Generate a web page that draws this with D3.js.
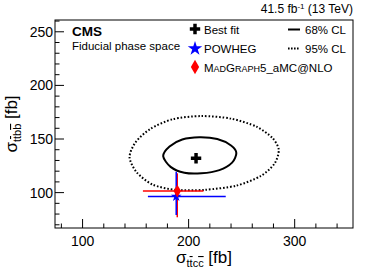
<!DOCTYPE html>
<html>
<head>
<meta charset="utf-8">
<script src="https://cdn.jsdelivr.net/npm/d3@7"></script>
<style>
body{margin:0;background:#fff;}
text{font-family:"Liberation Sans",Arial,sans-serif;fill:#000;}
</style>
</head>
<body>
<div class="chart"></div>
<script>
// values (fb)
var bestFit = [207, 132];
var powheg = {x:188.3, y:96.3, xlo:161.6, xhi:235, ylo:79.2, yhi:119.5};
var madgraph = {x:189.3, y:101.6, xlo:156.9, xhi:214, ylo:77, yhi:118};
var contour68 = [[176,134],[182,143],[194,149.5],[210,151.6],[227,150],[240,144],[245,137],[241,128],[229,121],[212,118],[196,118.5],[183,124]];
var contour95 = [[144.3,133],[150,147],[164,159.5],[185,168.5],[212,171.4],[240,169],[264,161.5],[279,151],[285,140],[281,127],[268,115.5],[245,106.5],[215,102.6],[188,102.5],[166,107.5],[151,119]];
var xTicks = [100,200,300];
var yTicks = [100,150,200,250];

function drawChart(){
	var width = 368, height = 276;
	var m = {left:55, right:15, top:20, bottom:48};
	var svg = d3.select(".chart").append("svg").attr("width",width).attr("height",height);

	var x = d3.scaleLinear().domain([74,355]).range([m.left,width-m.right]);
	var y = d3.scaleLinear().domain([67,261]).range([height-m.bottom,m.top]);

	// frame
	svg.append("rect").attr("x",m.left).attr("y",m.top)
	.attr("width",width-m.left-m.right).attr("height",height-m.top-m.bottom)
	.attr("fill","none").attr("stroke","#000").attr("stroke-width",1);

	// ticks (inside frame, ROOT style)
	var ax = svg.append("g").attr("stroke","#000").attr("stroke-width",1);
	d3.range(80,355,20).forEach(function(v){
		var big = xTicks.indexOf(v) !== -1;
		ax.append("line").attr("x1",x(v)).attr("x2",x(v))
		.attr("y1",height-m.bottom).attr("y2",height-m.bottom-(big?9:4.5));
	})
	d3.range(70,261,10).forEach(function(v){
		var big = yTicks.indexOf(v) !== -1;
		ax.append("line").attr("y1",y(v)).attr("y2",y(v))
		.attr("x1",m.left).attr("x2",m.left+(big?9:4.5));
	})
	svg.selectAll(".xl").data(xTicks).enter().append("text")
	.attr("x",function(d){return x(d)}).attr("y",height-m.bottom+18)
	.attr("text-anchor","middle").style("font-size","14px").text(function(d){return d});
	svg.selectAll(".yl").data(yTicks).enter().append("text")
	.attr("x",m.left-2).attr("y",function(d){return y(d)+5})
	.attr("text-anchor","end").style("font-size","14px").text(function(d){return d});

	// axis titles
	function sigmaTitle(t,q){
		t.append("tspan").text("σ");
		t.append("tspan").attr("dy",4).style("font-size","11px").text("t");
		t.append("tspan").style("font-size","11px").style("text-decoration","overline").text("t");
		t.append("tspan").style("font-size","11px").text(q);
		t.append("tspan").style("font-size","11px").style("text-decoration","overline").text(q);
		t.append("tspan").attr("dy",-4).text(" [fb]");
	}
	var xt = svg.append("text").attr("x",(m.left+width-m.right)/2).attr("y",263)
	.attr("text-anchor","middle").style("font-size","17px");
	sigmaTitle(xt,"c");
	var yt = svg.append("text").attr("transform","translate(17,"+((m.top+height-m.bottom)/2)+") rotate(-90)")
	.attr("text-anchor","middle").style("font-size","17px");
	sigmaTitle(yt,"b");

	// header
	var hd = svg.append("text").attr("x",width-m.right).attr("y",13).attr("text-anchor","end").style("font-size","12px");
	hd.append("tspan").text("41.5 fb");
	hd.append("tspan").attr("dy",-4).style("font-size","8px").text("-1");
	hd.append("tspan").attr("dy",4).text(" (13 TeV)");
	svg.append("text").attr("x",72).attr("y",36).style("font-size","13.5px").style("font-weight","bold").text("CMS");
	svg.append("text").attr("x",72).attr("y",50).style("font-size","11.5px").text("Fiducial phase space");

	// contours
	var line = d3.line().x(function(d){return x(d[0])}).y(function(d){return y(d[1])}).curve(d3.curveCardinalClosed.tension(0.2));
	svg.append("path").attr("d",line(contour95)).attr("fill","none").attr("stroke","#000")
	.attr("stroke-width",2).attr("stroke-dasharray","1.6,1.9");
	svg.append("path").attr("d",line(contour68)).attr("fill","none").attr("stroke","#000").attr("stroke-width",2);

	// predictions with error bars
	function errBars(p,col){
		var g = svg.append("g").attr("stroke",col).attr("stroke-width",1.5);
		g.append("line").attr("x1",x(p.xlo)).attr("x2",x(p.xhi)).attr("y1",y(p.y)).attr("y2",y(p.y));
		g.append("line").attr("x1",x(p.x)).attr("x2",x(p.x)).attr("y1",y(p.ylo)).attr("y2",y(p.yhi));
	}
	errBars(madgraph,"#ff0000");
	errBars(powheg,"#0000ff");
	var star = d3.symbol().type(d3.symbolStar);
	var cross = d3.symbol().type(d3.symbolCross);
	function diamond(cx,cy,s){
		return "M"+cx+","+(cy-s*1.3)+"L"+(cx+s*0.75)+","+cy+"L"+cx+","+(cy+s*1.3)+"L"+(cx-s*0.75)+","+cy+"Z";
	}
	svg.append("path").attr("d",star.size(35)()).attr("transform","translate("+x(powheg.x)+","+y(powheg.y)+")").attr("fill","#0000ff");
	svg.append("path").attr("d",diamond(x(madgraph.x),y(madgraph.y),5)).attr("fill","#ff0000");
	svg.append("path").attr("d",cross.size(60)()).attr("transform","translate("+x(bestFit[0])+","+y(bestFit[1])+")").attr("fill","#000");

	// legend
	var lg = svg.append("g");
	lg.append("path").attr("d",cross.size(60)()).attr("transform","translate(195,29)").attr("fill","#000");
	lg.append("text").attr("x",204).attr("y",33.5).style("font-size","11.5px").text("Best fit");
	lg.append("path").attr("d",star.size(65)()).attr("transform","translate(195,48.5)").attr("fill","#0000ff");
	lg.append("text").attr("x",204).attr("y",53).style("font-size","11.5px").text("POWHEG");
	lg.append("path").attr("d",diamond(195,67,5.5)).attr("fill","#ff0000");
	var mg = lg.append("text").attr("x",204).attr("y",72).style("font-size","11.5px");
	mg.append("tspan").text("M");
	mg.append("tspan").style("font-size","9px").text("AD");
	mg.append("tspan").text("G");
	mg.append("tspan").style("font-size","9px").text("RAPH");
	mg.append("tspan").text("5_aMC@NLO");
	lg.append("line").attr("x1",288).attr("x2",300).attr("y1",29.5).attr("y2",29.5).attr("stroke","#000").attr("stroke-width",2);
	lg.append("text").attr("x",305).attr("y",33.5).style("font-size","11.5px").text("68% CL");
	lg.append("line").attr("x1",288).attr("x2",300).attr("y1",48.5).attr("y2",48.5).attr("stroke","#000").attr("stroke-width",2).attr("stroke-dasharray","1.6,1.4");
	lg.append("text").attr("x",305).attr("y",53).style("font-size","11.5px").text("95% CL");
}
drawChart();
</script>
</body>
</html>
